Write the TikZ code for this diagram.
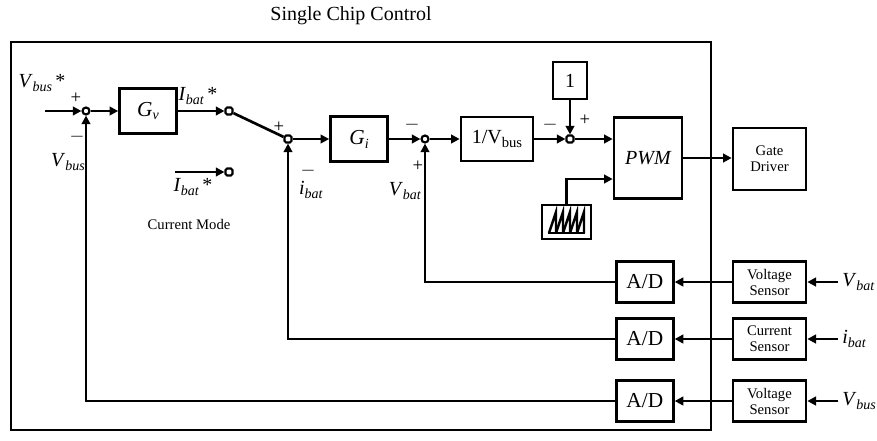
\documentclass[tikz,border=0pt]{standalone}
\usepackage{fontspec}
\setmainfont{Liberation Serif}
\usepackage{xcolor}
\usepackage{tikz}
\usetikzlibrary{arrows.meta,positioning,calc}

\newcommand{\sig}[2]{\textit{#1}\raisebox{-0.4ex}{\fontsize{10.5}{11}\selectfont\textit{#2}}}

\begin{document}
\begin{tikzpicture}[
    x=0.75pt, y=-0.75pt,
    block/.style={rectangle, draw=black, line width=2pt, fill=white, align=center, text centered, inner sep=0pt, minimum width=42.75pt, minimum height=33.75pt, font=\fontsize{16}{18}\selectfont},
    block_ad/.style={block, minimum width=42.75pt, minimum height=30.75pt},
    block_sens/.style={block, minimum width=54.75pt, minimum height=30.75pt, font=\fontsize{11}{12}\selectfont},
    sumpt/.style={circle, draw=black, line width=1.6pt, fill=white, inner sep=0pt, minimum size=5.25pt},
    term/.style={rectangle, rounded corners=1.2pt, draw=black, line width=1.6pt, fill=white, inner sep=0pt, minimum size=5.25pt},
    txt/.style={inner sep=0pt, font=\fontsize{15}{17}\selectfont},
    sgn/.style={inner sep=0pt, font=\fontsize{14}{14}\selectfont},
    line/.style={line width=2pt, draw=black},
    arrow/.style={-{Triangle[length=6.5pt,width=6.5pt]}, line width=2pt, draw=black}
]
    \useasboundingbox (0,0) rectangle (877,440);

    % Chip frame and title
    \draw [line width=1.8pt] (11,42) rectangle (711,430);
    \node (title) [txt] at (351,16) {Single Chip Control};

    % Outer voltage loop
    \coordinate (vin) at (45,111);
    \node (sum1) [sumpt] at (86,111) {};
    \node (gv) [block] at (148,111) {\sig{G}{v}};
    \node (sw1) [term] at (229,111) {};
    \node (sw2) [term] at (229,172) {};
    \coordinate (iin) at (175,172);

    % Inner current loop
    \node (sum2) [term] at (288,139) {};
    \node (gi) [block] at (359,139) {\sig{G}{i}};
    \node (sum3) [sumpt] at (425,139) {};
    \node (inv) [block, minimum width=54pt, minimum height=33pt, font=\fontsize{15}{17}\selectfont] at (497,139) {1/V\raisebox{-0.4ex}{\fontsize{11}{12}\selectfont bus}};
    \node (sum4) [term] at (570,139) {};
    \node (one) [block, minimum width=25.5pt, minimum height=27.75pt, font=\fontsize{15}{17}\selectfont] at (570,80.5) {1};

    % PWM and driver
    \node (pwm) [block, minimum width=51pt, minimum height=60.75pt, font=\fontsize{15}{17}\selectfont\itshape] at (648,158) {PWM};
    \node (saw) [block, minimum width=36.75pt, minimum height=25.5pt] at (566.5,222) {};
    \node (gate) [block_sens, minimum height=46.5pt] at (769.5,159) {Gate\\Driver};

    % Sensors and converters
    \node (vs1) [block_sens] at (769.5,282) {Voltage\\Sensor};
    \node (cs) [block_sens] at (769.5,339) {Current\\Sensor};
    \node (vs2) [block_sens] at (769.5,401) {Voltage\\Sensor};
    \node (ad1) [block_ad, left=42.75pt of vs1] {A/D};
    \node (ad2) [block_ad, left=42.75pt of cs] {A/D};
    \node (ad3) [block_ad, left=42.75pt of vs2] {A/D};
    \coordinate (in1) at (838,282);
    \coordinate (in2) at (838,339);
    \coordinate (in3) at (838,401);

    % Sawtooth
    \foreach \k in {0,...,4}
        \draw [line width=1.8pt, line join=miter] (549+7*\k,233) -- (556+7*\k,212) -- (556+7*\k,233);
    \draw [line width=1.6pt] (548,233) -- (585,233);

    % Labels
    \node (l_vbusref) [txt] at (42,83) {\sig{V}{bus}\,*};
    \node (l_vbus) [txt] at (68,162) {\sig{V}{bus}};
    \node (l_ibatref) [txt] at (198,96) {\sig{I}{bat}\,*};
    \node (l_ibatref2) [txt] at (193,187) {\sig{I}{bat}\,*};
    \node (l_mode) [inner sep=0pt, font=\fontsize{11}{12}\selectfont] at (189,224) {Current Mode};
    \node (l_ibat) [txt] at (311,190) {\sig{i}{bat}};
    \node (l_vbat) [txt] at (405,191) {\sig{V}{bat}};
    \node (l_vbat2) [txt, anchor=west] at (842,282) {\sig{V}{bat}};
    \node (l_ibat2) [txt, anchor=west] at (842,339) {\sig{i}{bat}};
    \node (l_vbus2) [txt, anchor=west] at (842,401) {\sig{V}{bus}};

    % Signs
    \node (s1p) [sgn] at (76,98) {+};
    \node (s1m) [sgn] at (77,137) {$-$};
    \node (s2p) [sgn] at (279,127) {+};
    \node (s2m) [sgn] at (308,171) {$-$};
    \node (s3m) [sgn] at (412,125) {$-$};
    \node (s3p) [sgn] at (418,166) {+};
    \node (s4m) [sgn] at (550,125) {$-$};
    \node (s4p) [sgn] at (585,120) {+};

    % Arrows
    \draw [arrow] (vin) -- (sum1);
    \draw [arrow] (sum1) -- (gv);
    \draw [arrow] (gv) -- (sw1);
    \draw [line] (sw1) -- (sum2);
    \draw [arrow] (iin) -- (sw2);
    \draw [arrow] (sum2) -- (gi);
    \draw [arrow] (gi) -- (sum3);
    \draw [arrow] (sum3) -- (inv);
    \draw [arrow] (inv) -- (sum4);
    \draw [arrow] (one) -- (sum4);
    \draw [arrow] (sum4) -- (sum4 -| pwm.west);
    \draw [arrow] (saw.north) |- ([yshift=-15.75pt]pwm.west);
    \draw [arrow] (pwm.east) -- (pwm.east -| gate.west);
    \draw [arrow] (in1) -- (vs1);
    \draw [arrow] (in2) -- (cs);
    \draw [arrow] (in3) -- (vs2);
    \draw [arrow] (vs1) -- (ad1);
    \draw [arrow] (cs) -- (ad2);
    \draw [arrow] (vs2) -- (ad3);
    \draw [arrow] (ad1.west) -| (sum3);
    \draw [arrow] (ad2.west) -| (sum2);
    \draw [arrow] (ad3.west) -| (sum1);
\end{tikzpicture}
\end{document}
